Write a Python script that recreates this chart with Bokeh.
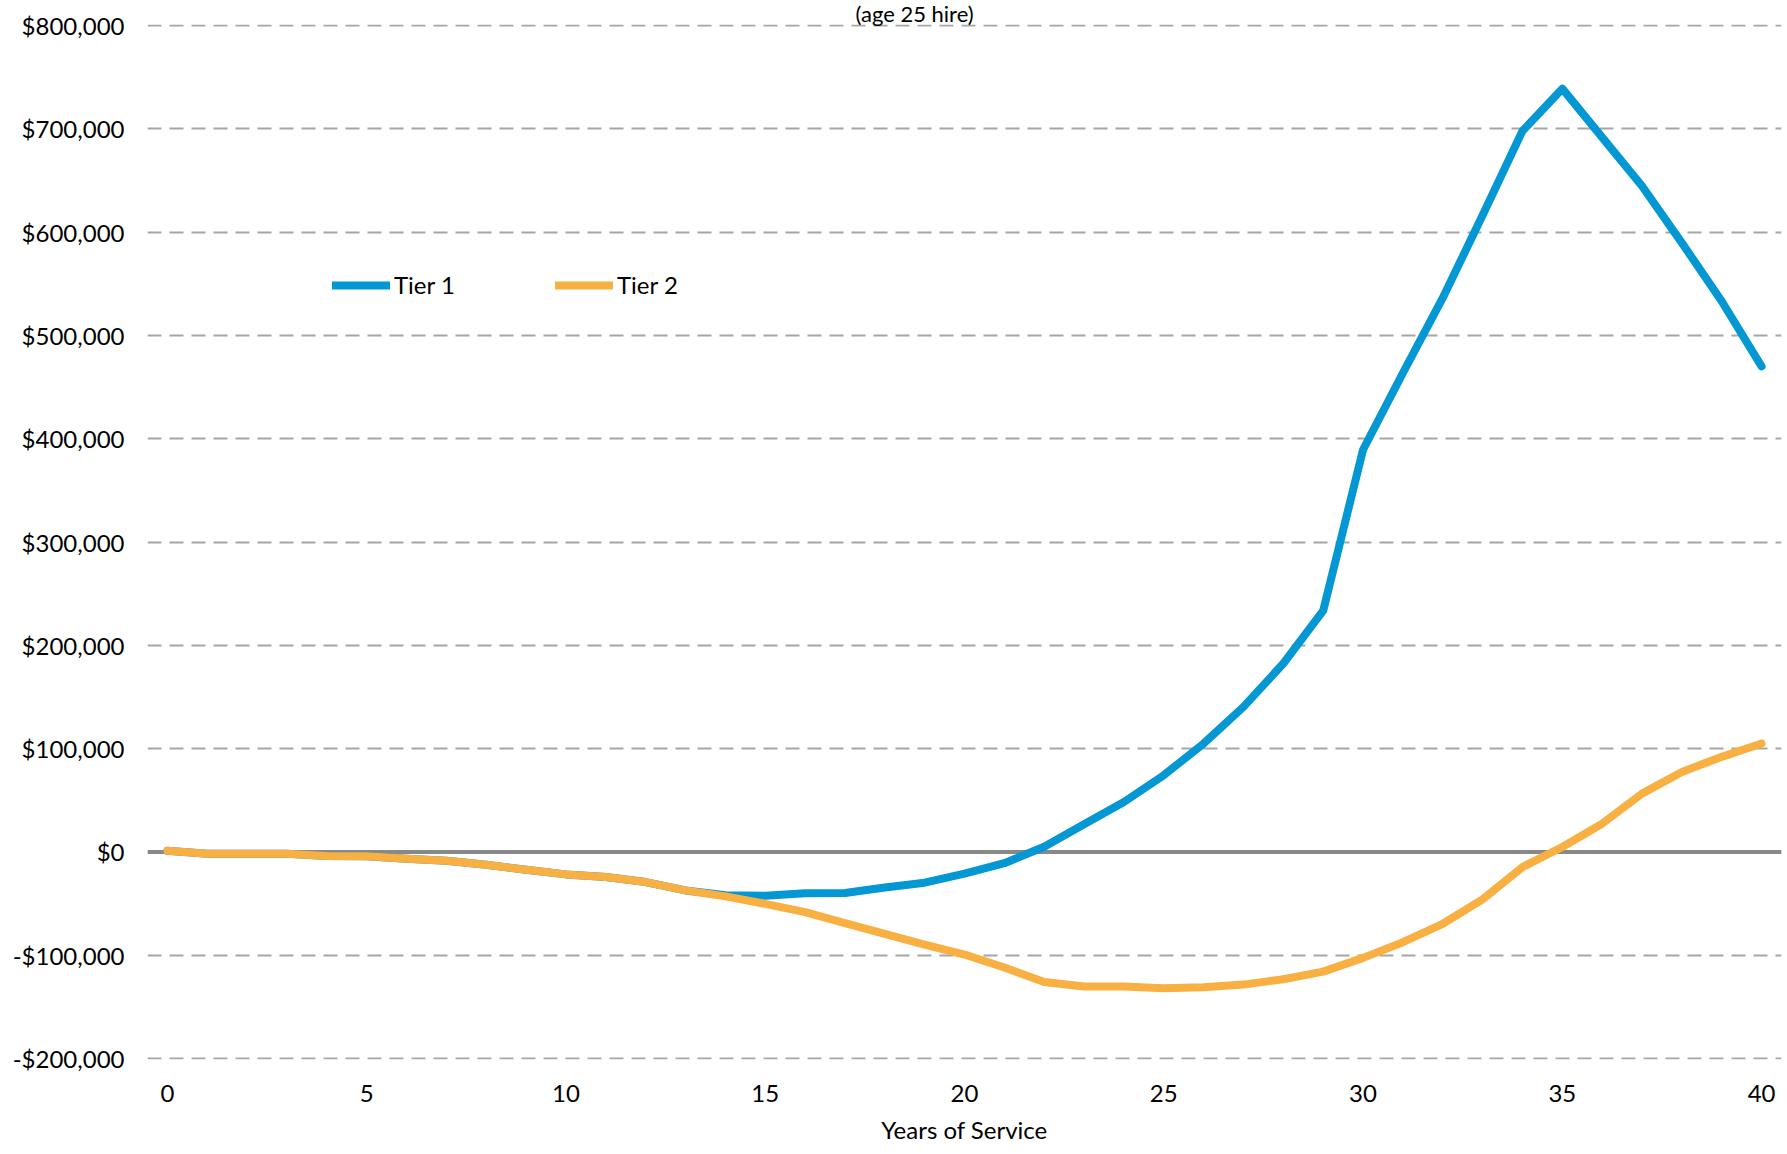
from bokeh.plotting import figure
from bokeh.models import Legend, LegendItem, Span, FixedTicker
from bokeh.embed import file_html
from bokeh.resources import INLINE

# ---------------- data ----------------
years = list(range(41))
tier1 = [1000, -1800, -1800, -1800, -4000, -4300, -6600, -8600, -12500, -17300,
         -21800, -24400, -29200, -37300, -42000, -42500, -40000, -39800, -34500, -29800,
         -21000, -11000, 5000, 26700, 48300, 74200, 104900, 140400, 182400, 233500,
         389300, 463600, 536300, 616400, 697900, 738900, 691700, 644600, 589600, 533100,
         470000]
tier2 = [1000, -1800, -1800, -1800, -4000, -4300, -6600, -8600, -12500, -17300,
         -21800, -24400, -29200, -37300, -43100, -50300, -58300, -69000, -79300, -89700,
         -99400, -112000, -126000, -130400, -130400, -132000, -131000, -128500, -123300, -115900,
         -102600, -87400, -69600, -46000, -14700, 4700, 27300, 56400, 77400, 92000,
         105000]
series_names = ["Tier 1", "Tier 2"]
y_ticks = [-200000, -100000, 0, 100000, 200000, 300000, 400000, 500000, 600000, 700000, 800000]
y_tick_labels = ["-$200,000", "-$100,000", "$0", "$100,000", "$200,000", "$300,000",
                 "$400,000", "$500,000", "$600,000", "$700,000", "$800,000"]
x_ticks = [0, 5, 10, 15, 20, 25, 30, 35, 40]
title_text = "(age 25 hire)"
x_label = "Years of Service"

BLUE = "#0398D3"
ORANGE = "#F8B043"
FONT = "Lato"

p = figure(width=1787, height=1154, x_range=(-0.5, 40.5), y_range=(-201000, 801000),
           title=title_text,
           output_backend="svg", toolbar_location=None,
           min_border_left=147, min_border_right=6, min_border_top=0, min_border_bottom=95)
p.outline_line_color = None
p.background_fill_color = "white"
p.border_fill_color = "white"

p.title.align = "left"
p.title.offset = 708
p.title.standoff = -5
p.title.text_font = FONT
p.title.text_font_size = "22px"
p.title.text_font_style = "normal"
p.title.text_color = "#000000"

# grid
p.xgrid.visible = False
p.ygrid.ticker = FixedTicker(ticks=y_ticks)
p.ygrid.grid_line_color = "#A6A6A6"
p.ygrid.grid_line_width = 2
p.ygrid.grid_line_dash = "14 8"

# zero line
zero = Span(location=0, dimension="width", line_color="#888888", line_width=4, level="underlay")
p.add_layout(zero)

# axes
p.yaxis.ticker = FixedTicker(ticks=y_ticks)
p.yaxis.major_label_overrides = {t: l for t, l in zip(y_ticks, y_tick_labels)}
p.xaxis.ticker = FixedTicker(ticks=x_ticks)
for ax in (p.xaxis, p.yaxis):
    ax.axis_line_color = None
    ax.major_tick_line_color = None
    ax.minor_tick_line_color = None
    ax.major_label_text_font = FONT
    ax.major_label_text_font_size = "24px"
    ax.major_label_text_color = "#000000"
p.yaxis.major_label_standoff = 17
p.xaxis.major_label_standoff = 19
p.xaxis.axis_label = x_label
p.xaxis.axis_label_text_font = FONT
p.xaxis.axis_label_text_font_size = "24px"
p.xaxis.axis_label_text_font_style = "normal"
p.xaxis.axis_label_text_color = "#000000"
p.xaxis.axis_label_standoff = 10

# lines
r1 = p.line(years, tier1, line_color=BLUE, line_width=8, line_join="round", line_cap="round")
r2 = p.line(years, tier2, line_color=ORANGE, line_width=8, line_join="round", line_cap="round")

# legends
for r, name, loc in ((r1, series_names[0], (185, 760)), (r2, series_names[1], (408, 760))):
    leg = Legend(items=[LegendItem(label=name, renderers=[r])], location=loc,
                 orientation="horizontal", border_line_color=None, background_fill_alpha=0,
                 padding=0, margin=0, glyph_width=58, glyph_height=20, label_height=20,
                 label_standoff=4, label_text_font=FONT, label_text_font_size="24px",
                 label_text_color="#000000")
    p.add_layout(leg)

open("out.html", "w").write(file_html(p, INLINE))
